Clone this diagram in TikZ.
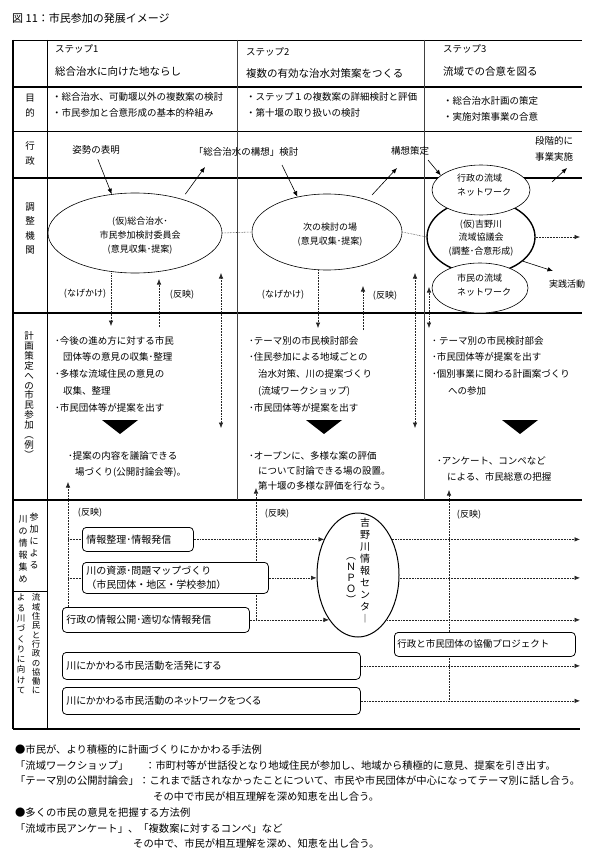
\documentclass[tikz,border=0pt]{standalone}
\usepackage{fontspec}
\setmainfont{Noto Sans CJK JP}
\newfontfamily\jpp[RawFeature=+palt]{Noto Sans CJK JP}
\usetikzlibrary{arrows.meta,shapes.geometric,calc,backgrounds}
\newcommand{\fsz}[1]{\fontsize{#1}{#1}\selectfont}
\newcommand{\vfs}[2]{\fontsize{#1}{#2}\selectfont\lineskiplimit=-30pt\lineskip=0pt\relax}
\tikzset{
  thickline/.style={line width=1.1pt},
  medline/.style={line width=0.8pt},
  thinline/.style={line width=0.5pt},
  colline/.style={line width=0.45pt, black!75},
  dotline/.style={line width=0.55pt, densely dotted, black!85},
  arr/.style={-{Latex[length=5.5pt,width=4.5pt]}},
  darr/.style={{Latex[length=5.5pt,width=4.5pt]}-{Latex[length=5.5pt,width=4.5pt]}},
  tl/.style={inner sep=0pt, anchor=west, font=\fsz{9.5}},
  tc/.style={inner sep=0pt, align=center, font=\fsz{9.5}},
  ell/.style={draw, ellipse, fill=white, inner sep=0pt, line width=0.6pt},
  boldell/.style={ell, line width=1.4pt},
  npoell/.style={ell, line width=1pt},
  rbox/.style={draw, rounded corners=4pt, fill=white, line width=0.75pt, inner ysep=0pt, inner xsep=4pt, anchor=north west, align=left, font=\vfs{10}{13.5}},
  vlab/.style={inner sep=0pt, align=center},
  note/.style={inner sep=0pt, anchor=west, font=\fsz{10.3}},
  tri/.style={fill=black},
}
\begin{document}
\begin{tikzpicture}[x=1pt,y=-1pt]
\begin{pgfonlayer}{background}
\fill[white] (0,0) rectangle (600,850);
\end{pgfonlayer}
\useasboundingbox (0,0) rectangle (600,850);

% ---------- title ----------
\node[inner sep=0pt, anchor=west, font=\fsz{11}] (title) at (12,18) {図 11：市民参加の発展イメージ};

% ---------- table lines ----------
\draw[thickline] (13,40) -- (13,729);
\draw[medline] (13,40) -- (582,40);
\draw[thickline] (13,87) -- (582,87);
\draw[thinline] (13,131) -- (582,131);
\draw[thickline] (13,178) -- (582,178);
\draw[thickline] (13,313) -- (582,313);
\draw[thickline] (13,500) -- (582,500);
\draw[thickline] (13,729) -- (580,729);
\draw[thinline] (47,40) -- (47,729);
\draw[thinline] (13,591) -- (47,591);
\draw[colline] (237,40) -- (237,500);
\draw[colline] (424,40) -- (424,500);

% ---------- header ----------
\node[tl] (s1) at (55,49) {ステップ1};
\node[tl, font=\fsz{10.5}] (s1t) at (55,72) {総合治水に向けた地ならし};
\node[tl] (s2) at (246,52) {ステップ2};
\node[tl, font=\fsz{10.5}] (s2t) at (246,74) {複数の有効な治水対策案をつくる};
\node[tl] (s3) at (443,49) {ステップ3};
\node[tl, font=\fsz{10.5}] (s3t) at (443,72) {流域での合意を図る};

% ---------- row labels ----------
\node[vlab, font=\vfs{9.5}{15}] (lmok) at (30,105.5) {目\\的};
\node[vlab, font=\vfs{9.5}{15}] (lgyo) at (30,153) {行\\政};
\node[vlab, font=\vfs{9.5}{14.3}] (lcho) at (30,228.5) {調\\整\\機\\関};
\node[vlab, font=\vfs{9.5}{9.9}] (lkei) at (29,395) {計\\画\\策\\定\\へ\\の\\市\\民\\参\\加\\︵\\例\\︶};
\node[vlab, font=\vfs{9}{12}] (lka1) at (34,541) {参\\加\\に\\よ\\る};
\node[vlab, font=\vfs{9}{12}] (lka2) at (23,549) {川\\の\\情\\報\\集\\め};
\node[vlab, font=\vfs{8.5}{9.3}] (lkb1) at (36,644) {流\\域\\住\\民\\と\\行\\政\\の\\協\\働\\に};
\node[vlab, font=\vfs{8.5}{10.3}] (lkb2) at (21,644) {よ\\る\\川\\づ\\く\\り\\に\\向\\け\\て};

% ---------- purpose row ----------
\node[tl] (m1a) at (52,97) {・総合治水、可動堰以外の複数案の検討};
\node[tl] (m1b) at (52,113) {・市民参加と合意形成の基本的枠組み};
\node[tl] (m2a) at (246,97) {・ステップ１の複数案の詳細検討と評価};
\node[tl] (m2b) at (246,113) {・第十堰の取り扱いの検討};
\node[tl] (m3a) at (443,101) {・総合治水計画の策定};
\node[tl] (m3b) at (443,117) {・実施対策事業の合意};

% ---------- administration row texts ----------
\node[tc] (sisei) at (96,150) {姿勢の表明};
\node[tc] (kousou) at (246,152) {「総合治水の構想」検討};
\node[tc] (sakutei) at (410,151) {構想策定};
\node[tc, font=\vfs{9.5}{16}] (jigyo) at (554,149) {段階的に\\事業実施};

% ---------- coordinates for free ends ----------
\coordinate (n1e) at (111,326);
\coordinate (h1s) at (159,327);
\coordinate (h1e) at (159,279);
\coordinate (d1a) at (221,273);
\coordinate (d1b) at (221,428);
\coordinate (n2e) at (318,328);
\coordinate (h2s) at (363,330);
\coordinate (h2e) at (363,286);
\coordinate (d2a) at (415,273);
\coordinate (d2b) at (415,428);
\coordinate (d3a) at (429,287);
\coordinate (d3b) at (429,328);
\coordinate (e4r) at (580,237);
\coordinate (jse) at (553,271);

% ---------- ellipses (coordination) ----------
\node[ell, minimum width=174pt, minimum height=80pt] (e1) at (135,233) {};
\node[ell, minimum width=150pt, minimum height=76pt] (e2) at (327,232) {};
\node[boldell, minimum width=108pt, minimum height=74pt] (e4) at (481,237) {};
\node[ell, minimum width=98pt, minimum height=50pt] (e3) at (481,190) {};
\node[ell, minimum width=96pt, minimum height=50pt] (e5) at (480,288) {};

\draw[dotline] (e1.east) -- (e2.west);
\draw[dotline] (e2.east) -- (e4.west);
\draw[dotline, arr] (e4.east) -- (e4r);
\draw[arr, line width=0.6pt] (e4.-30) -- (jse);
\node[tc, font=\fsz{9}] (jissen) at (567,284) {実践活動};

\node[tc, font=\vfs{9}{14}] (e1t) at (140,236) {(仮)総合治水･\\市民参加検討委員会\\(意見収集･提案)};
\node[tc, font=\vfs{9}{14}] (e2t) at (330,235) {次の検討の場\\(意見収集･提案)};
\node[inner sep=0pt, align=left, font=\vfs{9}{14}] (e3t) at (484,185) {行政の流域\\ネットワーク};
\node[tc, font=\vfs{9}{13.5}] (e4t) at (481,238) {(仮)吉野川\\流域協議会\\(調整･合意形成)};
\node[inner sep=0pt, align=left, font=\vfs{9}{14}] (e5t) at (484,285) {市民の流域\\ネットワーク};

\draw[dotline, arr] (n1e |- e1.south) -- (n1e);
\draw[dotline, arr] (h1s) -- (h1e);
\draw[dotline, darr] (d1b) -- (d1a);
\draw[dotline, arr] (n2e |- e2.south) -- (n2e);
\draw[dotline, arr] (h2s) -- (h2e);
\draw[dotline, darr] (d2b) -- (d2a);
\draw[dotline, darr] (d3b) -- (d3a);
\node[tc, font=\fsz{9}] (nage1) at (85,294) {(なげかけ)};
\node[tc, font=\fsz{9}] (han1) at (182,295) {(反映)};
\node[tc, font=\fsz{9}] (nage2) at (283,295) {(なげかけ)};
\node[tc, font=\fsz{9}] (han2) at (385,296) {(反映)};

% ---------- administration arrows ----------
\coordinate (a2e) at (205,167);
\coordinate (a3s) at (282,165);
\coordinate (a4s) at (372,195);
\coordinate (a4e) at (397,168);
\coordinate (a5s) at (428,160);
\coordinate (a6s) at (552,182);
\coordinate (a6e) at (567,168);
\draw[arr, line width=0.6pt, shorten <=5pt] (sisei.south) -- (e1.121);
\draw[arr, line width=0.6pt, shorten <=6pt] (e1.36) -- (a2e);
\draw[arr, line width=0.6pt] (a3s) -- (e2.130);
\draw[arr, line width=0.6pt] (a4s) -- (a4e);
\draw[arr, line width=0.6pt] (a5s) -- (e3.160);
\draw[arr, line width=0.6pt] (a6s) -- (a6e);

% ---------- planning row ----------
\node[tl] (k1a) at (55,341) {･今後の進め方に対する市民};
\node[tl] (k1b) at (63,357) {団体等の意見の収集･整理};
\node[tl] (k1c) at (55,374) {･多様な流域住民の意見の};
\node[tl] (k1d) at (63,391) {収集、整理};
\node[tl] (k1e) at (55,408) {･市民団体等が提案を出す};
\fill[tri] (102,420) -- (138,420) -- (120,434) -- cycle;
\node[tl] (k1f) at (68,456) {･提案の内容を議論できる};
\node[tl] (k1g) at (75,472) {場づくり(公開討論会等)。};

\node[tl] (k2a) at (249,341) {･テーマ別の市民検討部会};
\node[tl] (k2b) at (249,357) {･住民参加による地域ごとの};
\node[tl] (k2c) at (258,374) {治水対策、川の提案づくり};
\node[tl] (k2d) at (258,391) {(流域ワークショップ)};
\node[tl] (k2e) at (249,408) {･市民団体等が提案を出す};
\fill[tri] (306,420) -- (342,420) -- (324,434) -- cycle;
\node[tl] (k2f) at (249,456) {･オープンに、多様な案の評価};
\node[tl] (k2g) at (258,471) {について討論できる場の設置。};
\node[tl] (k2h) at (258,486) {第十堰の多様な評価を行なう。};

\node[tl] (k3a) at (432,341) {･ テーマ別の市民検討部会};
\node[tl] (k3b) at (432,357) {･市民団体等が提案を出す};
\node[tl] (k3c) at (432,374) {･個別事業に関わる計画案づくり};
\node[tl] (k3d) at (448,391) {への参加};
\fill[tri] (502,420) -- (538,420) -- (520,434) -- cycle;
\node[tl] (k3e) at (437,461) {･アンケート、コンペなど};
\node[tl] (k3f) at (447,477) {による、市民総意の把握};

% ---------- lower section ----------
\coordinate (r1top) at (68,482);
\coordinate (r2top) at (256,488);
\coordinate (r3top) at (449,490);
\coordinate (r3bot) at (449,700);
\coordinate (xr) at (580,500);

\node[rbox, text width=103pt, minimum height=24pt] (b1) at (82,527) {情報整理･情報発信};
\node[rbox, text width=178pt, minimum height=31pt] (b2) at (82,562) {川の資源･問題マップづくり\\（市民団体・地区・学校参加）};
\node[rbox, text width=179pt, minimum height=25pt] (b3) at (62,607) {行政の情報公開･適切な情報発信};
\node[rbox, text width=175pt, minimum height=24pt, inner xsep=3pt, font=\fsz{9.5}] (b4) at (394,632) {行政と市民団体の協働プロジェクト};
\node[rbox, text width=290pt, minimum height=27pt, font=\jpp\fsz{10}] (b5) at (62,652) {川にかかわる市民活動を活発にする};
\node[rbox, text width=290pt, minimum height=27pt, font=\jpp\fsz{10}] (b6) at (62,687) {川にかかわる市民活動のネットワークをつくる};
\node[npoell, minimum width=82pt, minimum height=124pt] (npo) at (358,575) {};

\node[vlab, font=\vfs{10}{12}] (npot1) at (365,571) {吉\\野\\川\\情\\報\\セ\\ン\\タ\\︱};
\node[vlab, font=\vfs{10}{11}] (npot2) at (351,581) {︵\\Ｎ\\Ｐ\\Ｏ\\︶};

\node[tc, font=\fsz{9}] (han3) at (90,513) {(反映)};
\node[tc, font=\fsz{9}] (han4) at (277,514) {(反映)};
\node[tc, font=\fsz{9}] (han5) at (469,515) {(反映)};

% dotted connectors, behind the boxes
\begin{pgfonlayer}{background}
\draw[dotline, arr] (r1top |- b3.north) -- (r1top);
\draw[dotline] (r1top |- b1.west) -- (b1.west);
\draw[dotline] (r1top |- b2.west) -- (b2.west);
\draw[dotline] (b3.east) -- (b3.east -| r2top);
\draw[dotline, arr] (r2top |- b3.east) -- (r2top);
\draw[dotline, arr] (r3bot) -- (r3top);
\draw[dotline, arr] (b1.east) -- (b1.east -| npo.133);
\draw[dotline, arr] (b1.east -| npo.47) -- (b1.east -| xr);
\draw[dotline, arr] (b2.east) -- (b2.east -| npo.west);
\draw[dotline, arr] (b2.east -| npo.east) -- (b2.east -| xr);
\draw[dotline, arr] (b3.east -| r2top) -- (b3.east -| npo.237);
\draw[dotline, arr] (b3.east -| npo.303) -- (b3.east -| xr);
\draw[dotline, arr] (b5.east) -- (b5.east -| xr);
\draw[dotline, arr] (b6.east) -- (b6.east -| xr);
\end{pgfonlayer}

% ---------- notes ----------
\node[note] (n1) at (15,750) {●市民が、より積極的に計画づくりにかかわる手法例};
\node[note] (n2a) at (15,766) {「流域ワークショップ」};
\node[note] (n2b) at (145,766) {：市町村等が世話役となり地域住民が参加し、地域から積極的に意見、提案を引き出す。};
\node[note] (n3a) at (15,781) {「テーマ別の公開討論会」};
\node[note] (n3b) at (139,781) {：これまで話されなかったことについて、市民や市民団体が中心になってテーマ別に話し合う。};
\node[note] (n4) at (153,797) {その中で市民が相互理解を深め知恵を出し合う。};
\node[note] (n5) at (15,813) {●多くの市民の意見を把握する方法例};
\node[note] (n6) at (15,829) {「流域市民アンケート」、「複数案に対するコンペ」など};
\node[note] (n7) at (133,844) {その中で、市民が相互理解を深め、知恵を出し合う。};
\end{tikzpicture}
\end{document}
